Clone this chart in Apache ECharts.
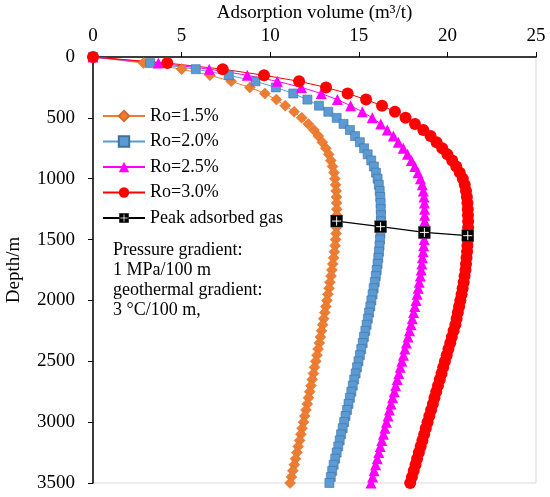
<!DOCTYPE html>
<html>
<head>
<meta charset="utf-8">
<script src="https://cdn.jsdelivr.net/npm/echarts@6/dist/echarts.min.js"></script>
<style>
html,body{margin:0;padding:0;background:#fff;}
#main{width:550px;height:497px;}
</style>
</head>
<body>
<div id="main"></div>
<script>
// depth (m) of every calculated point
var depth = [0,50,100,150,200,250,300,350,400,450,500,550,600,650,700,750,800,850,900,950,
	1000,1050,1100,1150,1200,1250,1300,1350,1400,1450,1500,1550,1600,1650,1700,1750,1800,1850,1900,1950,
	2000,2050,2100,2150,2200,2250,2300,2350,2400,2450,2500,2550,2600,2650,2700,2750,2800,2850,2900,2950,
	3000,3050,3100,3150,3200,3250,3300,3350,3400,3450,3500];

// adsorption volume (m3/t)
var ro15 = [0,2.85,5.0,6.6,7.8,8.85,9.7,10.35,10.85,11.35,11.78,12.15,12.47,12.72,12.94,13.14,13.3,13.42,13.52,13.6,
	13.65,13.69,13.72,13.74,13.75,13.76,13.76,13.75,13.74,13.72,13.69,13.66,13.62,13.58,13.53,13.48,13.43,13.37,13.32,13.26,
	13.2,13.14,13.08,13.02,12.96,12.9,12.83,12.77,12.7,12.64,12.57,12.5,12.44,12.37,12.3,12.23,12.16,12.09,12.02,11.95,
	11.88,11.8,11.73,11.66,11.58,11.51,11.43,11.36,11.28,11.2,11.12];
var ro20 = [0,3.22,5.8,7.66,9.17,10.32,11.3,12.1,12.75,13.28,13.75,14.14,14.5,14.79,15.06,15.3,15.5,15.7,15.85,15.97,
	16.06,16.13,16.18,16.21,16.23,16.24,16.25,16.25,16.24,16.22,16.2,16.17,16.14,16.1,16.06,16.01,15.96,15.9,15.84,15.78,
	15.71,15.65,15.58,15.51,15.44,15.37,15.29,15.22,15.14,15.06,14.98,14.9,14.82,14.74,14.66,14.58,14.5,14.42,14.34,14.25,
	14.17,14.09,14.0,13.92,13.84,13.75,13.67,13.58,13.5,13.42,13.34];
var ro25 = [0,3.69,6.56,8.71,10.4,11.76,12.88,13.79,14.54,15.2,15.76,16.24,16.61,16.95,17.23,17.51,17.75,17.97,18.16,18.34,
	18.48,18.58,18.64,18.68,18.7,18.71,18.72,18.72,18.72,18.71,18.69,18.66,18.63,18.59,18.56,18.52,18.47,18.41,18.35,18.29,
	18.23,18.16,18.09,18.02,17.95,17.86,17.78,17.69,17.6,17.52,17.43,17.34,17.26,17.17,17.08,17.0,16.91,16.82,16.73,16.65,
	16.56,16.47,16.39,16.3,16.21,16.13,16.04,15.95,15.86,15.78,15.69];
var ro30 = [0,4.19,7.32,9.65,11.63,13.15,14.37,15.41,16.31,17.04,17.64,18.17,18.64,19.05,19.39,19.71,20.0,20.27,20.5,20.7,
	20.87,20.98,21.05,21.1,21.13,21.15,21.16,21.17,21.17,21.16,21.15,21.13,21.11,21.08,21.05,21.02,20.97,20.92,20.86,20.8,
	20.73,20.66,20.59,20.52,20.45,20.35,20.25,20.16,20.06,19.96,19.86,19.76,19.67,19.57,19.47,19.37,19.27,19.18,19.08,18.98,
	18.88,18.78,18.69,18.59,18.49,18.39,18.29,18.2,18.1,18.0,17.9];

// peak adsorbed gas of each curve
var peakVol = [13.75,16.23,18.70,21.15];
var peakDepth = [1348,1394,1441,1468];

var xTicks = [0,5,10,15,20,25];
var yTicks = [0,500,1000,1500,2000,2500,3000,3500];

function pairs(vals,deps){
	var out=[];
	for(var i=0;i<vals.length;i++){
		out.push([vals[i],deps[i]]);
	}
	return out;
}

var font = 'Liberation Serif';
var peakSvg = '<svg xmlns="http://www.w3.org/2000/svg" width="26" height="26">'+
	'<rect x="1" y="1" width="24" height="24" fill="#000" stroke="#555" stroke-width="1"/>'+
	'<rect x="12" y="4" width="2" height="18" fill="#fff"/>'+
	'<rect x="4" y="12" width="18" height="2" fill="#fff"/></svg>';
var peakSymbol = 'image://data:image/svg+xml;charset=utf-8,'+encodeURIComponent(peakSvg);

var myChart = echarts.init(document.getElementById('main'));
var option = {
	backgroundColor : '#fff',
	animation : false,
	grid : {
		left : 93,
		top : 57,
		right : 14,
		bottom : 14,
		outerBoundsMode : 'none',
		show : true,
		borderColor : '#d9d9d9',
		borderWidth : 1
	},
	legend : {
		orient : 'vertical',
		left : 97,
		top : 102,
		itemWidth : 42,
		itemHeight : 13,
		itemGap : 7.5,
		textStyle : {
			fontFamily : font,
			fontSize : 18,
			color : '#000'
		},
		data : ['Ro=1.5%','Ro=2.0%','Ro=2.5%','Ro=3.0%','Peak adsorbed gas']
	},
	xAxis : {
		type : 'value',
		position : 'top',
		min : xTicks[0],
		max : xTicks[xTicks.length-1],
		interval : 5,
		name : 'Adsorption volume (m\u00b3/t)',
		nameLocation : 'middle',
		nameGap : 33,
		nameTextStyle : {
			fontFamily : font,
			fontSize : 19,
			color : '#000'
		},
		axisLine : { lineStyle : { color : '#000', width : 1.5 } },
		axisTick : { show : true, length : 5, lineStyle : { color : '#000' } },
		axisLabel : {
			fontFamily : font,
			fontSize : 19,
			color : '#000',
			margin : 11
		},
		splitLine : { show : false }
	},
	yAxis : {
		type : 'value',
		inverse : true,
		min : yTicks[0],
		max : yTicks[yTicks.length-1],
		interval : 500,
		name : 'Depth/m',
		nameLocation : 'middle',
		nameGap : 69,
		nameTextStyle : {
			fontFamily : font,
			fontSize : 19,
			color : '#000'
		},
		axisLine : { lineStyle : { color : '#000', width : 1.5 } },
		axisTick : { show : true, length : 5, lineStyle : { color : '#000' } },
		axisLabel : {
			fontFamily : font,
			fontSize : 19,
			color : '#000',
			margin : 18,
			formatter : function(v){
				return String(v);
			}
		},
		splitLine : { show : false }
	},
	graphic : [ {
		type : 'text',
		left : 113,
		top : 240,
		style : {
			text : 'Pressure gradient:\n1 MPa/100 m\ngeothermal gradient:\n3 \u00b0C/100 m,',
			font : '18px "Liberation Serif"',
			fill : '#000',
			lineHeight : 20
		}
	} ],
	series : [ {
		name : 'Ro=1.5%',
		type : 'line',
		symbol : 'diamond',
		symbolSize : 11,
		data : pairs(ro15,depth),
		lineStyle : { color : '#ED7D31', width : 1 },
		itemStyle : { color : '#ED7D31', borderColor : '#D9692A', borderWidth : 0.5 }
	}, {
		name : 'Ro=2.0%',
		type : 'line',
		symbol : 'rect',
		symbolSize : 9,
		data : pairs(ro20,depth),
		lineStyle : { color : '#5B9BD5', width : 1 },
		itemStyle : { color : '#5B9BD5', borderColor : '#41719C', borderWidth : 0.6 }
	}, {
		name : 'Ro=2.5%',
		type : 'line',
		symbol : 'triangle',
		symbolSize : 11,
		data : pairs(ro25,depth),
		lineStyle : { color : '#FF00FF', width : 1 },
		itemStyle : { color : '#FF00FF' }
	}, {
		name : 'Ro=3.0%',
		type : 'line',
		symbol : 'circle',
		symbolSize : 12,
		data : pairs(ro30,depth),
		lineStyle : { color : '#FF0000', width : 1 },
		itemStyle : { color : '#FF0000' }
	}, {
		name : 'Peak adsorbed gas',
		type : 'line',
		symbol : peakSymbol,
		symbolSize : 13,
		data : pairs(peakVol,peakDepth),
		lineStyle : { color : '#000', width : 1.2 },
		itemStyle : { color : '#000' },
		z : 5
	} ]
};
myChart.setOption(option);
</script>
</body>
</html>
